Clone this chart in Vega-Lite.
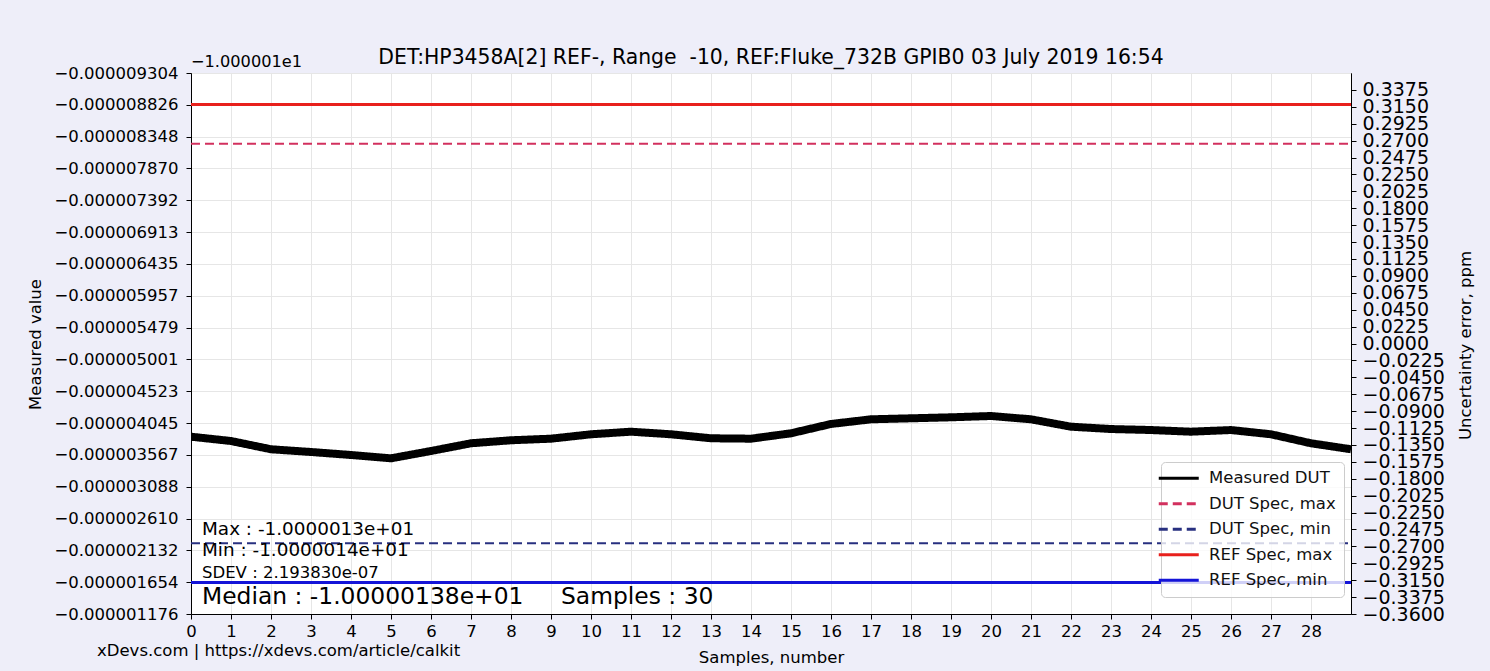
{
  "$schema": "https://vega.github.io/schema/vega-lite/v6.json",
  "width": 1160,
  "height": 541,
  "autosize": {"type": "none"},
  "padding": {"left": 191, "top": 73, "right": 139, "bottom": 57},
  "background": "#eeeef9",
  "title": {
    "text": "DET:HP3458A[2] REF-, Range\u00a0 -10, REF:Fluke_732B GPIB0 03 July 2019 16:54",
    "frame": "group",
    "anchor": "middle",
    "fontSize": 20.4,
    "fontWeight": "normal",
    "font": "DejaVu Sans",
    "color": "#000000",
    "offset": 8,
    "dy": 22
  },
  "datasets": {
    "measured": [
      {"sample": 0, "value": -0.00000384, "series": "Measured DUT"},
      {"sample": 1, "value": -0.000003775, "series": "Measured DUT"},
      {"sample": 2, "value": -0.000003651, "series": "Measured DUT"},
      {"sample": 3, "value": -0.00000361, "series": "Measured DUT"},
      {"sample": 4, "value": -0.000003565, "series": "Measured DUT"},
      {"sample": 5, "value": -0.000003515, "series": "Measured DUT"},
      {"sample": 6, "value": -0.000003625, "series": "Measured DUT"},
      {"sample": 7, "value": -0.000003741, "series": "Measured DUT"},
      {"sample": 8, "value": -0.000003786, "series": "Measured DUT"},
      {"sample": 9, "value": -0.00000381, "series": "Measured DUT"},
      {"sample": 10, "value": -0.000003876, "series": "Measured DUT"},
      {"sample": 11, "value": -0.000003915, "series": "Measured DUT"},
      {"sample": 12, "value": -0.000003876, "series": "Measured DUT"},
      {"sample": 13, "value": -0.000003816, "series": "Measured DUT"},
      {"sample": 14, "value": -0.00000381, "series": "Measured DUT"},
      {"sample": 15, "value": -0.000003891, "series": "Measured DUT"},
      {"sample": 16, "value": -0.000004031, "series": "Measured DUT"},
      {"sample": 17, "value": -0.000004101, "series": "Measured DUT"},
      {"sample": 18, "value": -0.000004116, "series": "Measured DUT"},
      {"sample": 19, "value": -0.000004131, "series": "Measured DUT"},
      {"sample": 20, "value": -0.000004151, "series": "Measured DUT"},
      {"sample": 21, "value": -0.000004101, "series": "Measured DUT"},
      {"sample": 22, "value": -0.00000399, "series": "Measured DUT"},
      {"sample": 23, "value": -0.000003955, "series": "Measured DUT"},
      {"sample": 24, "value": -0.00000394, "series": "Measured DUT"},
      {"sample": 25, "value": -0.000003915, "series": "Measured DUT"},
      {"sample": 26, "value": -0.00000394, "series": "Measured DUT"},
      {"sample": 27, "value": -0.000003876, "series": "Measured DUT"},
      {"sample": 28, "value": -0.000003741, "series": "Measured DUT"},
      {"sample": 29, "value": -0.000003651, "series": "Measured DUT"}
    ],
    "dut_specs": [
      {"series": "DUT Spec, max", "sample": 0, "ppm": 0.266},
      {"series": "DUT Spec, max", "sample": 29, "ppm": 0.266},
      {"series": "DUT Spec, min", "sample": 0, "ppm": -0.266},
      {"series": "DUT Spec, min", "sample": 29, "ppm": -0.266}
    ],
    "ref_specs": [
      {"series": "REF Spec, max", "sample": 0, "ppm": 0.318},
      {"series": "REF Spec, max", "sample": 29, "ppm": 0.318},
      {"series": "REF Spec, min", "sample": 0, "ppm": -0.318},
      {"series": "REF Spec, min", "sample": 29, "ppm": -0.318}
    ],
    "blank": [{}]
  },
  "layer": [
    {
      "layer": [
        {
          "data": {"name": "measured"},
          "mark": {"type": "line", "strokeJoin": "round", "strokeWidth": 8, "clip": true},
          "encoding": {
            "x": {
              "field": "sample",
              "type": "quantitative",
              "scale": {"domain": [0, 29], "nice": false, "zero": false},
              "axis": {
                "title": "Samples, number",
                "values": [0,1,2,3,4,5,6,7,8,9,10,11,12,13,14,15,16,17,18,19,20,21,22,23,24,25,26,27,28],
                "tickCount": 200,
                "format": "d",
                "grid": true,
                "labelOverlap": false,
                "labelFontSize": 16.5,
                "labelPadding": 4,
                "titleFontSize": 16.5,
                "titleY": 43,
                "titleBaseline": "middle"
              }
            },
            "y": {
              "field": "value",
              "type": "quantitative",
              "scale": {"domain": [-0.000009304, -0.000001176], "reverse": true, "nice": false, "zero": false},
              "axis": {
                "title": "Measured value",
                "orient": "left",
                "values": [-0.000009304, -0.000008826, -0.000008348, -0.00000787, -0.000007392, -0.000006913, -0.000006435, -0.000005957, -0.000005479, -0.000005001, -0.000004523, -0.000004045, -0.000003567, -0.000003088, -0.00000261, -0.000002132, -0.000001654, -0.000001176],
                "tickCount": 200,
                "format": ".9f",
                "grid": true,
                "labelOverlap": false,
                "labelFontSize": 16.5,
                "labelPadding": 8,
                "titleFontSize": 16.5,
                "titleAngle": 270,
                "titleX": -156,
                "titleY": 271,
                "titleBaseline": "middle",
                "titleAlign": "center"
              }
            },
            "color": {
              "field": "series",
              "type": "nominal",
              "scale": {
                "domain": ["Measured DUT", "DUT Spec, max", "DUT Spec, min", "REF Spec, max", "REF Spec, min"],
                "range": ["#000000", "#d2305e", "#283080", "#e8201c", "#1414d8"]
              },
              "legend": {
                "title": null,
                "orient": "none",
                "legendX": 970,
                "legendY": 389,
                "labelFontSize": 16.5,
                "labelColor": "#111111",
                "labelOffset": 22,
                "symbolType": "M-5,0L5,0",
                "symbolSize": 64,
                "symbolOffset": 1.5,
                "symbolStrokeWidth": 3,
                "rowPadding": 8.5,
                "padding": 8,
                "fillColor": "rgba(255,255,255,0.8)",
                "strokeColor": "#cccccc",
                "cornerRadius": 4
              }
            },
            "strokeDash": {
              "field": "series",
              "type": "nominal",
              "scale": {
                "domain": ["Measured DUT", "DUT Spec, max", "DUT Spec, min", "REF Spec, max", "REF Spec, min"],
                "range": [[1, 0], [9, 5], [9, 5], [1, 0], [1, 0]]
              }
            }
          }
        },
        {
          "data": {"name": "blank"},
          "mark": {"type": "text", "text": "\u22121.000001e1", "align": "left", "baseline": "alphabetic", "dy": -6, "fontSize": 16.2, "color": "#000000"},
          "encoding": {"x": {"datum": 0}, "y": {"datum": -0.000009304}}
        }
      ]
    },
    {
      "layer": [
        {
          "data": {"name": "dut_specs"},
          "mark": {"type": "line", "strokeWidth": 2, "clip": true},
          "encoding": {
            "x": {"field": "sample", "type": "quantitative"},
            "y": {
              "field": "ppm",
              "type": "quantitative",
              "scale": {"domain": [-0.36, 0.36], "nice": false, "zero": false},
              "axis": {
                "title": "Uncertainty error, ppm",
                "orient": "right",
                "values": [0.3375, 0.315, 0.2925, 0.27, 0.2475, 0.225, 0.2025, 0.18, 0.1575, 0.135, 0.1125, 0.09, 0.0675, 0.045, 0.0225, 0, -0.0225, -0.045, -0.0675, -0.09, -0.1125, -0.135, -0.1575, -0.18, -0.2025, -0.225, -0.2475, -0.27, -0.2925, -0.315, -0.3375, -0.36],
                "tickCount": 200,
                "format": ".4f",
                "grid": false,
                "labelOverlap": false,
                "labelFontSize": 19,
                "labelPadding": 6,
                "titleFontSize": 16.5,
                "titleAngle": 270,
                "titleX": 114,
                "titleY": 272,
                "titleBaseline": "middle",
                "titleAlign": "center"
              }
            },
            "color": {"field": "series", "type": "nominal"},
            "strokeDash": {"field": "series", "type": "nominal"}
          }
        },
        {
          "data": {"name": "ref_specs"},
          "mark": {"type": "line", "strokeWidth": 3, "clip": true},
          "encoding": {
            "x": {"field": "sample", "type": "quantitative"},
            "y": {"field": "ppm", "type": "quantitative"},
            "color": {"field": "series", "type": "nominal"},
            "strokeDash": {"field": "series", "type": "nominal"}
          }
        },
        {
          "data": {"name": "blank"},
          "mark": {"type": "text", "text": "Max : -1.0000013e+01", "align": "left", "baseline": "middle", "fontSize": 18.4, "color": "#000000"},
          "encoding": {"x": {"datum": 0.275}, "y": {"datum": -0.2469}}
        },
        {
          "data": {"name": "blank"},
          "mark": {"type": "text", "text": "Min : -1.0000014e+01", "align": "left", "baseline": "middle", "fontSize": 18.4, "color": "#000000"},
          "encoding": {"x": {"datum": 0.275}, "y": {"datum": -0.2748}}
        },
        {
          "data": {"name": "blank"},
          "mark": {"type": "text", "text": "SDEV : 2.193830e-07", "align": "left", "baseline": "middle", "fontSize": 16.5, "color": "#000000"},
          "encoding": {"x": {"datum": 0.275}, "y": {"datum": -0.3055}}
        },
        {
          "data": {"name": "blank"},
          "mark": {"type": "text", "text": "Median : -1.00000138e+01", "align": "left", "baseline": "middle", "fontSize": 23.4, "color": "#000000"},
          "encoding": {"x": {"datum": 0.275}, "y": {"datum": -0.3374}}
        },
        {
          "data": {"name": "blank"},
          "mark": {"type": "text", "text": "Samples : 30", "align": "left", "baseline": "middle", "fontSize": 23.4, "color": "#000000"},
          "encoding": {"x": {"datum": 9.25}, "y": {"datum": -0.3374}}
        },
        {
          "data": {"name": "blank"},
          "mark": {"type": "text", "text": "xDevs.com | https://xdevs.com/article/calkit", "align": "left", "baseline": "middle", "fontSize": 16.5, "color": "#000000"},
          "encoding": {"x": {"datum": -2.35}, "y": {"datum": -0.4093}}
        }
      ]
    }
  ],
  "resolve": {"scale": {"y": "independent"}, "axis": {"y": "independent"}},
  "config": {
    "font": "DejaVu Sans",
    "view": {"stroke": "#000000", "strokeWidth": 1, "fill": "#ffffff"},
    "axis": {
      "labelFont": "DejaVu Sans",
      "titleFont": "DejaVu Sans",
      "labelColor": "#000000",
      "titleColor": "#000000",
      "titleFontWeight": "normal",
      "domainColor": "#000000",
      "tickColor": "#000000",
      "tickSize": 5,
      "gridColor": "#e6e6e6",
      "gridWidth": 1,
      "labelOverlap": false,
      "labelFlush": false
    },
    "legend": {"labelFont": "DejaVu Sans"},
    "text": {"font": "DejaVu Sans"}
  }
}
